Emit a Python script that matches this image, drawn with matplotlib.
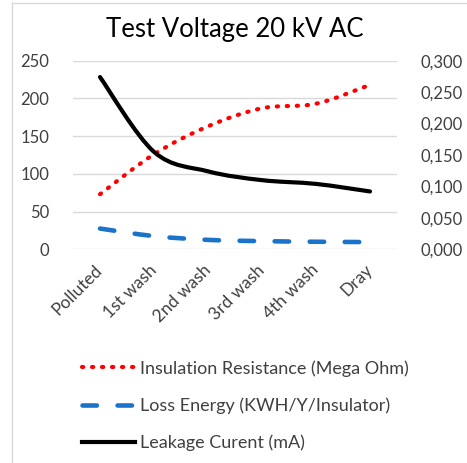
import numpy as np
import matplotlib.pyplot as plt
from matplotlib.path import Path
from matplotlib.patches import PathPatch
from matplotlib.lines import Line2D

# data
stages = ['Polluted', '1st wash', '2nd wash', '3rd wash', '4th wash', 'Dray']
insulation = [73, 126, 163, 187, 193, 218]                 # Mega Ohm (left axis)
loss_energy = [0.033, 0.021, 0.015, 0.013, 0.012, 0.0115]  # KWH/Y/Insulator (right axis)
leakage = [0.274, 0.155, 0.124, 0.110, 0.104, 0.092]        # mA (right axis)

left_ticks = [0, 50, 100, 150, 200, 250]
right_ticks = [0, 0.05, 0.10, 0.15, 0.20, 0.25, 0.30]

plt.rcParams['font.family'] = ['Lato', 'DejaVu Sans']


def smooth_path(xs, ys, t=1 / 6):
    # excel-style smoothed line as cubic bezier through the points
    xs = np.asarray(xs, float)
    ys = np.asarray(ys, float)
    n = len(xs)
    verts = [(xs[0], ys[0])]
    codes = [Path.MOVETO]
    for i in range(n - 1):
        p0 = np.array([xs[max(i - 1, 0)], ys[max(i - 1, 0)]])
        p1 = np.array([xs[i], ys[i]])
        p2 = np.array([xs[i + 1], ys[i + 1]])
        p3 = np.array([xs[min(i + 2, n - 1)], ys[min(i + 2, n - 1)]])
        c1 = p1 + (p2 - p0) * t
        c2 = p2 - (p3 - p1) * t
        verts += [tuple(c1), tuple(c2), tuple(p2)]
        codes += [Path.CURVE4] * 3
    return Path(verts, codes)


fig = plt.figure(figsize=(4.67, 4.63), dpi=100)
ax = fig.add_axes([73 / 467, 1 - 249.3 / 463, 324 / 467, 188.6 / 463])
ax2 = ax.twinx()

x = np.arange(len(stages))

red_ls = (0, (0.3, 2.1))
blue_ls = (0, (3.15, 4.5))
ax.add_patch(PathPatch(smooth_path(x, insulation), fill=False, edgecolor='#ff0000',
                       lw=3, linestyle=red_ls, capstyle='round'))
ax2.add_patch(PathPatch(smooth_path(x, loss_energy), fill=False, edgecolor='#1a73c8',
                        lw=3.3, linestyle=blue_ls, capstyle='round'))
ax2.add_patch(PathPatch(smooth_path(x, leakage), fill=False, edgecolor='black',
                        lw=3, capstyle='round'))

ax.set_xlim(-0.5, 5.5)
ax.set_ylim(0, 250)
ax2.set_ylim(0, 0.30)
ax.set_yticks(left_ticks)
ax2.set_yticks(right_ticks)
ax2.set_yticklabels([f'{v:.3f}'.replace('.', ',') for v in right_ticks])
ax.set_xticks(x)
ax.set_xticklabels(stages, rotation=45, ha='right', va='center', rotation_mode='anchor')

ax.grid(axis='y', color='#d9d9d9', lw=1)
ax.set_axisbelow(True)
for a in (ax, ax2):
    for s in a.spines.values():
        s.set_visible(False)
    a.tick_params(length=0, labelsize=12, colors='#404040')
ax.tick_params(axis='y', pad=17)
ax2.tick_params(axis='y', pad=17)
ax.tick_params(axis='x', pad=13, labelsize=12.5)

ax.set_title('Test Voltage 20 kV AC', fontsize=18.5, color='black', pad=17)

handles = [
    Line2D([], [], color='#ff0000', lw=3, linestyle=red_ls, dash_capstyle='round'),
    Line2D([], [], color='#1a73c8', lw=3.3, linestyle=blue_ls, dash_capstyle='round'),
    Line2D([], [], color='black', lw=3),
]
labels = ['Insulation Resistance (Mega Ohm)', 'Loss Energy (KWH/Y/Insulator)',
          'Leakage Curent (mA)']
fig.legend(handles, labels, loc='upper left', bbox_to_anchor=(66 / 467, 1 - 344 / 463),
           frameon=False, fontsize=13, handlelength=2.9, handletextpad=0.3,
           labelspacing=1.15, labelcolor='#404040')

# light frame around the chart
fig.add_artist(Line2D([12 / 467, 12 / 467], [0, 1 - 3 / 463], color='#d9d9d9', lw=1))
fig.add_artist(Line2D([12 / 467, 1], [1 - 3 / 463, 1 - 3 / 463], color='#d9d9d9', lw=1))

fig.savefig('out.png', dpi=100)
